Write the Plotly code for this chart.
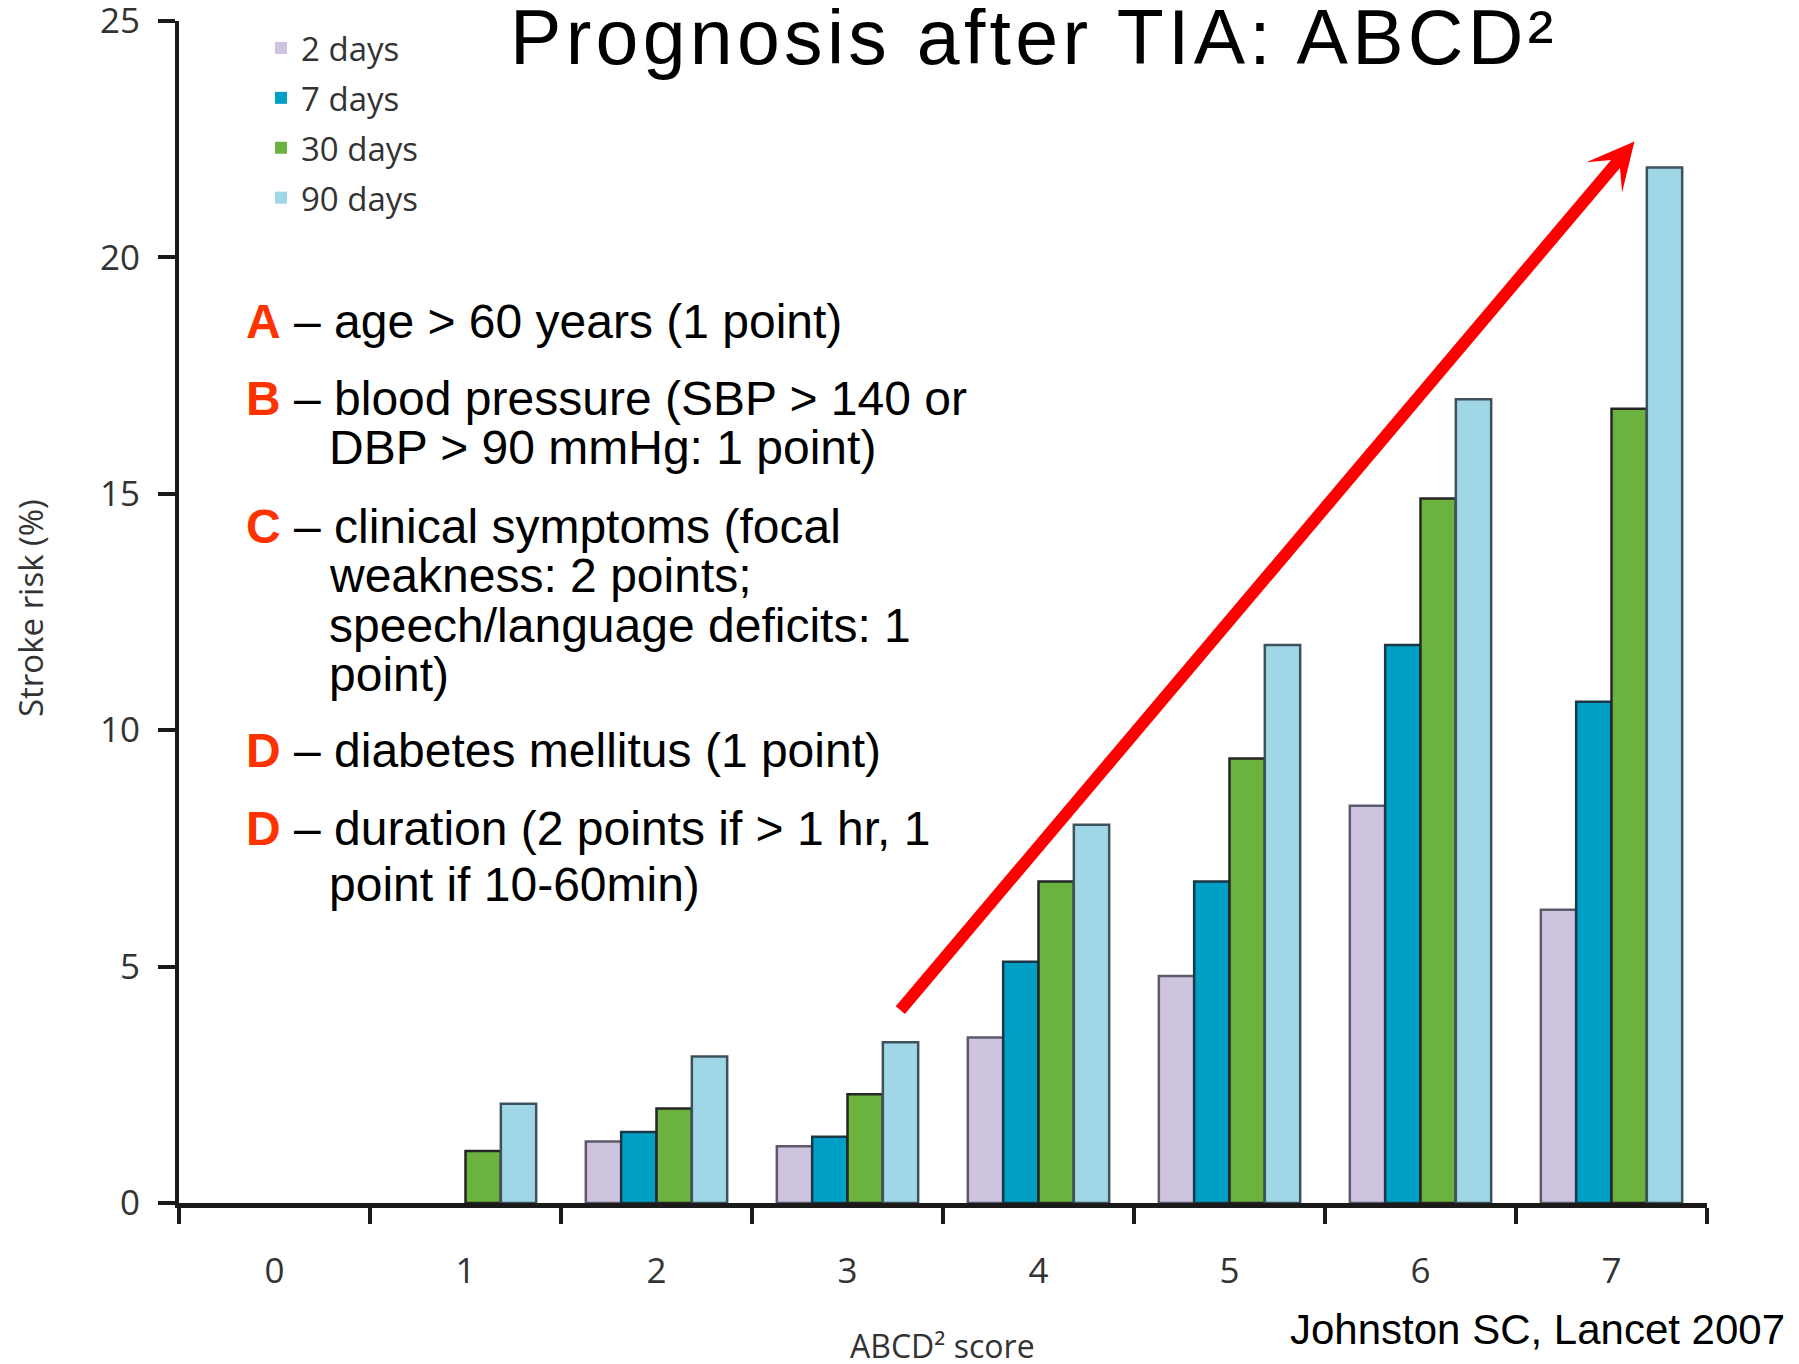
import plotly.graph_objects as go

# ---- data ----
scores = ["0", "1", "2", "3", "4", "5", "6", "7"]
series_names = ["2 days", "7 days", "30 days", "90 days"]
risk_2d = [0, 0, 1.3, 1.2, 3.5, 4.8, 8.4, 6.2]
risk_7d = [0, 0, 1.5, 1.4, 5.1, 6.8, 11.8, 10.6]
risk_30d = [0, 1.1, 2.0, 2.3, 6.8, 9.4, 14.9, 16.8]
risk_90d = [0, 2.1, 3.1, 3.4, 8.0, 11.8, 17.0, 21.9]
y_ticks = [0, 5, 10, 15, 20, 25]

fills = ["#CEC4E0", "#00A0C6", "#6BB33E", "#A0D7E7"]
edges = ["#5E5868", "#1B3746", "#262626", "#3E525C"]

W, H = 1799, 1364
L, R, T, B = 171, 100, 13, 169
PW, PH = W - L - R, H - T - B


def px_x(p):
    return (p - L) / PW


def px_y(p):
    return (H - B - p) / PH


fig = go.Figure()
for i, (name, vals) in enumerate(zip(series_names, [risk_2d, risk_7d, risk_30d, risk_90d])):
    fig.add_bar(
        x=scores, y=vals, name=name, legendgroup=name,
        marker=dict(color=fills[i],
                    line=dict(color=edges[i], width=[2.5 if v > 0 else 0 for v in vals])),
    )

tick_font = dict(family="Open Sans, Noto Sans, sans-serif", size=35, color="#333333")

fig.update_layout(
    width=W, height=H,
    margin=dict(l=L, r=R, t=T, b=B),
    paper_bgcolor="white", plot_bgcolor="white",
    barmode="group", bargap=0.26, bargroupgap=0,
    showlegend=True,
    legend=dict(x=px_x(253), y=px_y(12), xanchor="left", yanchor="top",
                font=dict(family="Open Sans, Noto Sans, sans-serif", size=33, color="#333333"),
                bgcolor="rgba(0,0,0,0)", tracegroupgap=4, traceorder="grouped"),
    xaxis=dict(type="category", categoryorder="array", categoryarray=scores,
               range=[-0.5, 7.5], showline=True, linecolor="#1a1a1a", linewidth=5,
               ticks="outside", tickson="boundaries", ticklen=16, tickwidth=4, tickcolor="#1a1a1a",
               showgrid=False, zeroline=False, tickfont=tick_font, ticklabelstandoff=33,
               automargin=False),
    yaxis=dict(range=[0, 25], tickvals=y_ticks, showline=True, linecolor="#1a1a1a", linewidth=4,
               ticks="outside", ticklen=17, tickwidth=4, tickcolor="#1a1a1a",
               showgrid=False, zeroline=False, tickfont=tick_font, ticklabelstandoff=11,
               ticklabeloverflow="allow", automargin=False),
)

ann = []
# title
ann.append(dict(text="<span style='letter-spacing:4.3px'>Prognosis after TIA: ABCD²</span>",
                x=px_x(500), y=px_y(29),
                xref="paper", yref="paper", xanchor="left", yanchor="middle", showarrow=False,
                font=dict(family="Liberation Sans, Arial, sans-serif", size=77, color="black")))

RED = "#FF3300"
XL, XC = 236, 319
body_lines = [
    ("<span style='color:%s'><b>A</b></span> – age > 60 years (1 point)" % RED, XL, 313),
    ("<span style='color:%s'><b>B</b></span> – blood pressure (SBP > 140 or" % RED, XL, 391),
    ("DBP > 90 mmHg: 1 point)", XC, 440),
    ("<span style='color:%s'><b>C</b></span> – clinical symptoms (focal" % RED, XL, 518),
    ("weakness: 2 points;", XC, 567),
    ("speech/language deficits: 1", XC, 617),
    ("point)", XC, 666),
    ("<span style='color:%s'><b>D</b></span> – diabetes mellitus (1 point)" % RED, XL, 742),
    ("<span style='color:%s'><b>D</b></span> – duration (2 points if > 1 hr, 1" % RED, XL, 820),
    ("point if 10-60min)", XC, 876),
]
for txt, xp, yp in body_lines:
    ann.append(dict(text=txt, x=px_x(xp), y=px_y(yp), xref="paper", yref="paper",
                    xanchor="left", yanchor="middle", showarrow=False,
                    font=dict(family="Liberation Sans, Arial, sans-serif", size=48, color="black")))

# citation
ann.append(dict(text="Johnston SC, Lancet 2007", x=px_x(1779), y=px_y(1321), xref="paper", yref="paper",
                xanchor="right", yanchor="middle", showarrow=False,
                font=dict(family="Liberation Sans, Arial, sans-serif", size=42, color="black")))
# axis titles
ann.append(dict(text="ABCD² score", x=px_x(934), y=px_y(1337), xref="paper", yref="paper",
                xanchor="center", yanchor="middle", showarrow=False,
                font=dict(family="Open Sans, Noto Sans, sans-serif", size=32, color="#333333")))
ann.append(dict(text="Stroke risk (%)", x=px_x(22), y=px_y(600), xref="paper", yref="paper",
                xanchor="center", yanchor="middle", showarrow=False, textangle=-90,
                font=dict(family="Open Sans, Noto Sans, sans-serif", size=33, color="#333333")))
# red trend arrow
ann.append(dict(text="", x=7.12, y=22.45, ax=3.27, ay=4.05, xref="x", yref="y", axref="x", ayref="y",
                showarrow=True, arrowhead=3, arrowsize=0.65, arrowwidth=12, arrowcolor="#FF0000"))

fig.update_layout(annotations=ann)
fig.write_html("out.html")
